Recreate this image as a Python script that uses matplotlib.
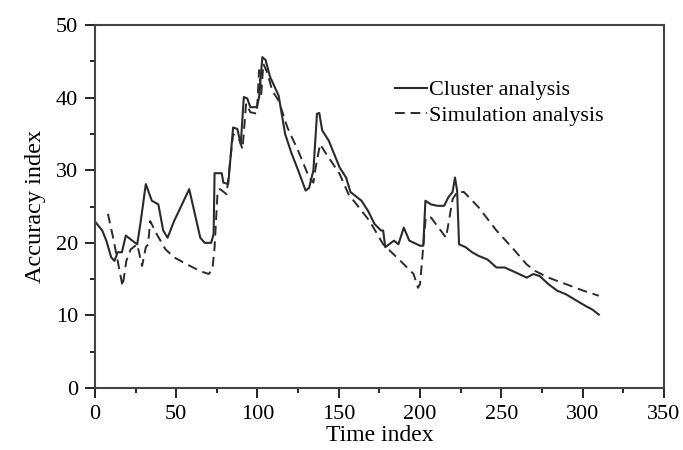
import matplotlib
matplotlib.use("Agg")
import matplotlib.pyplot as plt
from matplotlib.ticker import MultipleLocator

plt.rcParams['font.family'] = ['Liberation Serif', 'DejaVu Serif']

# Cluster analysis (solid line)
cluster_t = [0.5, 4.5, 7, 10, 12, 14, 16.6, 19, 23, 26, 28, 31.3, 35, 39, 42, 44.7,
             48.7, 58, 64.8, 67.5, 71.5, 73, 73.6, 78, 79, 82, 85, 87.6, 89.7, 91.6,
             93.7, 95.6, 99.6, 101, 103, 105, 107.7, 113, 117, 121, 125, 129.6, 131.8,
             134.4, 136.6, 138, 139.8, 143.8, 150.5, 154.5, 157.2, 164, 168, 172, 176,
             177.3, 178.6, 181, 184, 186.7, 190, 193.4, 200, 202, 203.3, 206.7, 210.8,
             214.8, 217.5, 220, 221.5, 222.8, 224, 228, 232, 236, 241.5, 247, 252,
             259, 265.7, 269.7, 273.7, 279, 284.4, 289.8, 296.5, 301.8, 306, 310]
cluster_v = [22.8, 21.7, 20.3, 18.0, 17.5, 18.7, 18.7, 21.0, 20.3, 19.8, 22.7, 28.1,
             25.8, 25.3, 21.7, 20.7, 23.0, 27.4, 20.7, 20.0, 20.0, 21.2, 29.6, 29.6,
             28.3, 28.1, 35.9, 35.7, 33.6, 40.1, 39.9, 38.7, 38.7, 40.1, 45.6, 45.2,
             42.9, 40.3, 35.0, 32.3, 30.0, 27.2, 27.6, 30.0, 37.8, 37.9, 35.5, 34.1,
             30.4, 29.0, 27.0, 25.8, 24.4, 22.6, 21.7, 21.7, 19.4, 19.8, 20.3, 19.8,
             22.1, 20.3, 19.6, 19.6, 25.8, 25.3, 25.1, 25.1, 26.3, 27.0, 29.0, 27.2,
             19.8, 19.4, 18.7, 18.2, 17.7, 16.6, 16.6, 15.9, 15.2, 15.7, 15.4, 14.3,
             13.4, 12.9, 12.0, 11.3, 10.8, 10.1]

# Simulation analysis (dashed line)
sim_t = [8, 11.2, 14, 17, 19.3, 22, 26, 29, 31.3, 32.7, 34, 38, 43.4, 48.7, 56.8,
         64.8, 70, 72.3, 73.6, 75.5, 77, 81, 85, 89, 90.8, 93, 95.6, 99.6, 101,
         102.3, 103.6, 106.3, 109, 113, 118.4, 125, 131.8, 134.4, 135.8, 138.5, 141,
         150.5, 156, 169, 177.3, 188, 196, 198.7, 200, 203.5, 206.7, 216, 220, 222.8,
         227, 236, 247, 257.6, 265.7, 271, 279, 289.8, 300.5, 310]
sim_v = [24.0, 20.7, 17.5, 14.0, 17.5, 19.1, 19.8, 16.8, 19.4, 19.8, 23.0, 21.2,
         19.1, 18.0, 17.0, 16.1, 15.7, 16.4, 19.4, 27.2, 27.4, 26.7, 35.0, 34.1,
         32.9, 39.2, 38.0, 37.8, 43.8, 40.5, 44.7, 43.3, 41.0, 39.6, 35.9, 32.7,
         29.0, 28.3, 30.4, 33.6, 32.7, 29.5, 26.7, 23.0, 19.8, 17.5, 15.7, 13.8,
         14.3, 23.5, 23.5, 20.7, 26.0, 27.0, 27.0, 24.9, 21.7, 19.1, 17.0, 16.1,
         15.2, 14.3, 13.4, 12.7]

fig = plt.figure(figsize=(6.83, 4.5), dpi=100)
ax = fig.add_axes([0.139, 0.138, 0.833, 0.806])

ax.plot(cluster_t, cluster_v, color='#2b2b2b', lw=1.5, label='Cluster analysis')
ax.plot(sim_t, sim_v, color='#2b2b2b', lw=1.4, ls=(0, (5, 3)), label='Simulation analysis')

ax.set_xlim(0, 350)
ax.set_ylim(0, 50)
ax.xaxis.set_major_locator(MultipleLocator(50))
ax.xaxis.set_minor_locator(MultipleLocator(25))
ax.yaxis.set_major_locator(MultipleLocator(10))
ax.yaxis.set_minor_locator(MultipleLocator(5))
ax.tick_params(which='major', direction='out', length=7, width=1.2, labelsize=16, pad=5)
ax.tick_params(which='minor', direction='out', length=3.5, width=1.2)
for s in ax.spines.values():
    s.set_linewidth(1.5)
    s.set_color('#444444')

ax.set_xlabel('Time index', fontsize=17, labelpad=1)
ax.set_ylabel('Accuracy index', fontsize=17.5, labelpad=7)

ax.legend(loc='upper left', bbox_to_anchor=(0.507, 0.88), frameon=False,
          fontsize=16, handlelength=1.45, handletextpad=0.12, labelspacing=0.22,
          borderpad=0)

fig.savefig('out.png', dpi=100)
